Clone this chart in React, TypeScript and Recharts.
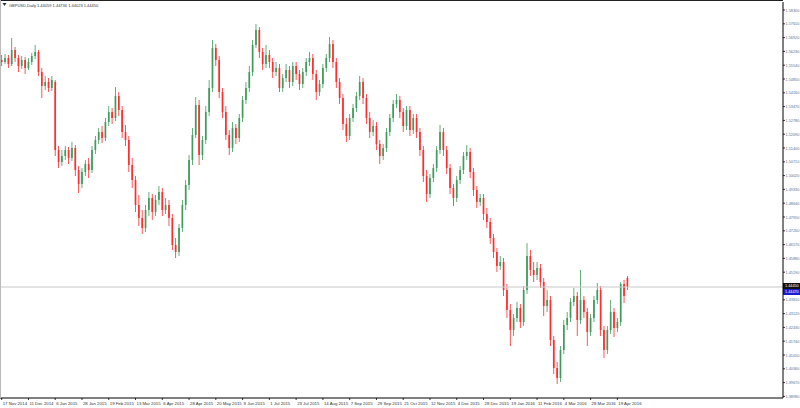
import { ComposedChart, Bar, XAxis, YAxis, ReferenceLine } from 'recharts';

const dateLabels = [
  '17 Nov 2014', '11 Dec 2014', '6 Jan 2015', '28 Jan 2015', '19 Feb 2015', '13 Mar 2015',
  '6 Apr 2015', '28 Apr 2015', '20 May 2015', '9 Jun 2015', '1 Jul 2015', '23 Jul 2015',
  '14 Aug 2015', '7 Sep 2015', '29 Sep 2015', '21 Oct 2015', '12 Nov 2015', '4 Dec 2015',
  '28 Dec 2015', '19 Jan 2016', '11 Feb 2016', '4 Mar 2016', '28 Mar 2016', '19 Apr 2016',
];

const opens = [
  1.5580, 1.5570, 1.5590, 1.5560, 1.5630, 1.5590, 1.5550, 1.5580, 1.5540, 1.5570,
  1.5600, 1.5620, 1.5520, 1.5450, 1.5470, 1.5440, 1.5470, 1.5130, 1.5070, 1.5100,
  1.5130, 1.5090, 1.5140, 1.5030, 1.4960, 1.5020, 1.5060, 1.5030, 1.5130, 1.5180,
  1.5220, 1.5190, 1.5270, 1.5320, 1.5290, 1.5400, 1.5330, 1.5220, 1.5180, 1.5055,
  1.4980, 1.4855, 1.4790, 1.4740, 1.4830, 1.4890, 1.4820, 1.4880, 1.4920, 1.4830,
  1.4855, 1.4790, 1.4655, 1.4620, 1.4740, 1.4855, 1.4955, 1.5080, 1.5205, 1.5355,
  1.5105, 1.5180, 1.5320, 1.5440, 1.5640, 1.5580, 1.5420, 1.5320, 1.5205, 1.5140,
  1.5240, 1.5190, 1.5290, 1.5380, 1.5440, 1.5520, 1.5655, 1.5730, 1.5620, 1.5560,
  1.5605, 1.5570, 1.5520, 1.5540, 1.5440, 1.5490, 1.5530, 1.5470, 1.5550, 1.5510,
  1.5460, 1.5520, 1.5570, 1.5590, 1.5510, 1.5420, 1.5460, 1.5540, 1.5590, 1.5660,
  1.5570, 1.5470, 1.5390, 1.5260, 1.5200, 1.5290, 1.5340, 1.5400, 1.5470, 1.5390,
  1.5290, 1.5220, 1.5250, 1.5160, 1.5100, 1.5140, 1.5220, 1.5290, 1.5360, 1.5380,
  1.5320, 1.5250, 1.5330, 1.5230, 1.5290, 1.5220, 1.5130, 1.5000, 1.4910, 1.4990,
  1.5040, 1.5130, 1.5220, 1.5130, 1.5040, 1.4940, 1.4890, 1.4980, 1.5030, 1.5100,
  1.5120, 1.5020, 1.4930, 1.4870, 1.4890, 1.4810, 1.4770, 1.4690, 1.4620, 1.4550,
  1.4570, 1.4430, 1.4330, 1.4230, 1.4290, 1.4340, 1.4270, 1.4430, 1.4600, 1.4530,
  1.4505, 1.4540, 1.4470, 1.4350, 1.4380, 1.4180, 1.4040, 1.3990, 1.4130, 1.4255,
  1.4290, 1.4370, 1.4400, 1.4280, 1.4380, 1.4320, 1.4220, 1.4290, 1.4380, 1.4430,
  1.4230, 1.4130, 1.4230, 1.4320, 1.4240, 1.4270, 1.4460, 1.4490,
];

const highs = [
  1.5605, 1.5610, 1.5605, 1.5690, 1.5645, 1.5605, 1.5600, 1.5595, 1.5590, 1.5615,
  1.5655, 1.5630, 1.5540, 1.5500, 1.5490, 1.5500, 1.5480, 1.5150, 1.5130, 1.5150,
  1.5145, 1.5170, 1.5155, 1.5050, 1.5040, 1.5080, 1.5090, 1.5150, 1.5200, 1.5240,
  1.5250, 1.5290, 1.5350, 1.5340, 1.5445, 1.5420, 1.5350, 1.5255, 1.5200, 1.5090,
  1.5000, 1.4905, 1.4830, 1.4855, 1.4920, 1.4910, 1.4905, 1.4950, 1.4940, 1.4890,
  1.4880, 1.4810, 1.4690, 1.4760, 1.4880, 1.4980, 1.5105, 1.5240, 1.5395, 1.5380,
  1.5200, 1.5350, 1.5480, 1.5680, 1.5660, 1.5600, 1.5440, 1.5350, 1.5230, 1.5270,
  1.5260, 1.5310, 1.5400, 1.5470, 1.5550, 1.5680, 1.5760, 1.5745, 1.5640, 1.5655,
  1.5630, 1.5590, 1.5570, 1.5560, 1.5510, 1.5560, 1.5550, 1.5570, 1.5570, 1.5530,
  1.5540, 1.5590, 1.5620, 1.5610, 1.5530, 1.5480, 1.5560, 1.5610, 1.5695, 1.5680,
  1.5590, 1.5490, 1.5410, 1.5290, 1.5310, 1.5360, 1.5420, 1.5500, 1.5490, 1.5410,
  1.5320, 1.5280, 1.5270, 1.5180, 1.5160, 1.5240, 1.5310, 1.5380, 1.5410, 1.5400,
  1.5340, 1.5350, 1.5350, 1.5310, 1.5310, 1.5240, 1.5150, 1.5030, 1.5010, 1.5060,
  1.5150, 1.5255, 1.5240, 1.5150, 1.5060, 1.4960, 1.5000, 1.5050, 1.5120, 1.5155,
  1.5140, 1.5040, 1.4950, 1.4910, 1.4910, 1.4840, 1.4790, 1.4710, 1.4640, 1.4600,
  1.4590, 1.4460, 1.4360, 1.4310, 1.4370, 1.4360, 1.4450, 1.4665, 1.4630, 1.4570,
  1.4570, 1.4560, 1.4490, 1.4430, 1.4400, 1.4200, 1.4070, 1.4150, 1.4280, 1.4320,
  1.4390, 1.4440, 1.4420, 1.4530, 1.4400, 1.4340, 1.4310, 1.4400, 1.4465, 1.4450,
  1.4250, 1.4250, 1.4380, 1.4340, 1.4290, 1.4470, 1.4480, 1.4500,
];

const lows = [
  1.5550, 1.5560, 1.5540, 1.5550, 1.5570, 1.5520, 1.5535, 1.5510, 1.5530, 1.5555,
  1.5585, 1.5500, 1.5390, 1.5430, 1.5420, 1.5425, 1.5100, 1.5040, 1.5050, 1.5080,
  1.5060, 1.5075, 1.5000, 1.4915, 1.4940, 1.5000, 1.4990, 1.5015, 1.5110, 1.5160,
  1.5165, 1.5175, 1.5250, 1.5260, 1.5275, 1.5300, 1.5190, 1.5150, 1.5020, 1.4940,
  1.4820, 1.4750, 1.4710, 1.4720, 1.4800, 1.4780, 1.4800, 1.4855, 1.4800, 1.4810,
  1.4750, 1.4630, 1.4590, 1.4600, 1.4720, 1.4830, 1.4930, 1.5055, 1.5190, 1.5055,
  1.5080, 1.5160, 1.5300, 1.5420, 1.5550, 1.5390, 1.5290, 1.5180, 1.5105, 1.5120,
  1.5160, 1.5170, 1.5270, 1.5360, 1.5420, 1.5500, 1.5640, 1.5590, 1.5530, 1.5540,
  1.5540, 1.5490, 1.5500, 1.5420, 1.5420, 1.5470, 1.5440, 1.5450, 1.5480, 1.5430,
  1.5440, 1.5500, 1.5550, 1.5480, 1.5380, 1.5400, 1.5440, 1.5520, 1.5570, 1.5540,
  1.5440, 1.5360, 1.5230, 1.5170, 1.5180, 1.5270, 1.5320, 1.5380, 1.5360, 1.5260,
  1.5190, 1.5200, 1.5130, 1.5060, 1.5080, 1.5120, 1.5200, 1.5270, 1.5340, 1.5290,
  1.5220, 1.5230, 1.5200, 1.5210, 1.5190, 1.5100, 1.4970, 1.4870, 1.4890, 1.4970,
  1.5020, 1.5110, 1.5100, 1.5010, 1.4910, 1.4850, 1.4870, 1.4960, 1.5010, 1.5080,
  1.4990, 1.4900, 1.4840, 1.4850, 1.4780, 1.4740, 1.4660, 1.4590, 1.4520, 1.4530,
  1.4400, 1.4290, 1.4150, 1.4200, 1.4270, 1.4240, 1.4250, 1.4410, 1.4500, 1.4470,
  1.4480, 1.4440, 1.4300, 1.4320, 1.4150, 1.4010, 1.3960, 1.3970, 1.4110, 1.4230,
  1.4270, 1.4350, 1.4200, 1.4260, 1.4290, 1.4150, 1.4200, 1.4270, 1.4360, 1.4200,
  1.4090, 1.4110, 1.4210, 1.4195, 1.4220, 1.4250, 1.4365, 1.4430,
];

const closes = [
  1.5570, 1.5590, 1.5560, 1.5630, 1.5590, 1.5550, 1.5580, 1.5540, 1.5570, 1.5600,
  1.5620, 1.5520, 1.5450, 1.5470, 1.5440, 1.5480, 1.5130, 1.5070, 1.5100, 1.5130,
  1.5090, 1.5140, 1.5030, 1.4960, 1.5020, 1.5060, 1.5030, 1.5130, 1.5180, 1.5220,
  1.5190, 1.5270, 1.5320, 1.5290, 1.5400, 1.5330, 1.5220, 1.5180, 1.5055, 1.4980,
  1.4855, 1.4790, 1.4740, 1.4830, 1.4890, 1.4820, 1.4880, 1.4920, 1.4830, 1.4855,
  1.4790, 1.4655, 1.4620, 1.4740, 1.4855, 1.4955, 1.5080, 1.5205, 1.5355, 1.5105,
  1.5180, 1.5320, 1.5440, 1.5640, 1.5580, 1.5420, 1.5320, 1.5205, 1.5140, 1.5240,
  1.5190, 1.5290, 1.5380, 1.5440, 1.5520, 1.5655, 1.5730, 1.5620, 1.5560, 1.5605,
  1.5570, 1.5520, 1.5540, 1.5440, 1.5490, 1.5530, 1.5470, 1.5550, 1.5510, 1.5460,
  1.5520, 1.5570, 1.5590, 1.5510, 1.5420, 1.5460, 1.5540, 1.5590, 1.5660, 1.5570,
  1.5470, 1.5390, 1.5260, 1.5200, 1.5290, 1.5340, 1.5400, 1.5470, 1.5390, 1.5290,
  1.5220, 1.5250, 1.5160, 1.5100, 1.5140, 1.5220, 1.5290, 1.5360, 1.5380, 1.5320,
  1.5250, 1.5330, 1.5230, 1.5290, 1.5220, 1.5130, 1.5000, 1.4910, 1.4990, 1.5040,
  1.5130, 1.5220, 1.5130, 1.5040, 1.4940, 1.4890, 1.4980, 1.5030, 1.5100, 1.5120,
  1.5020, 1.4930, 1.4870, 1.4890, 1.4810, 1.4770, 1.4690, 1.4620, 1.4550, 1.4570,
  1.4430, 1.4330, 1.4230, 1.4290, 1.4340, 1.4270, 1.4430, 1.4600, 1.4530, 1.4505,
  1.4540, 1.4470, 1.4350, 1.4380, 1.4180, 1.4040, 1.3990, 1.4130, 1.4255, 1.4290,
  1.4370, 1.4400, 1.4280, 1.4380, 1.4320, 1.4220, 1.4290, 1.4380, 1.4430, 1.4230,
  1.4130, 1.4230, 1.4320, 1.4240, 1.4270, 1.4460, 1.4400, 1.4445,
];

// right axis price labels (the one under the bid label is hidden, like the terminal does)
const priceTicks = [
  1.5830, 1.5761, 1.5692, 1.5623, 1.5554, 1.5485, 1.5416, 1.5347, 1.5278, 1.5209,
  1.5140, 1.5071, 1.5002, 1.4933, 1.4864, 1.4795, 1.4726, 1.4657, 1.4588, 1.4519,
  1.4381, 1.4312, 1.4243, 1.4174, 1.4105, 1.4036, 1.3967, 1.3898,
];

const bidPrice = 1.4445;
const askPrice = 1.4447;
const titleText = 'GBPUSD,Daily  1.44059 1.44736 1.44023 1.44450';

const BULL = '#3f9c5c';
const BEAR = '#ff2d2d';
const FONT = 'Liberation Sans, Arial, sans-serif';
const LABEL_EVERY = 8;
const SHIFT_BARS = 46; // empty space on the right of the last bar

const rows = [
  ...opens.map((o, i) => ({
    i,
    o,
    h: highs[i],
    l: lows[i],
    c: closes[i],
    range: [lows[i], highs[i]],
  })),
  ...Array.from({ length: SHIFT_BARS }, (_, k) => ({ i: opens.length + k, range: null })),
];

function Candle(props: any) {
  const { x, y, width, height, payload } = props;
  if (!payload || payload.o == null) return null;
  const { o, h, l, c } = payload;
  const top = Math.min(y, y + height);
  const full = Math.abs(height);
  const ppu = full / (h - l || 1);
  const bodyTop = top + (h - Math.max(o, c)) * ppu;
  const bodyH = Math.max(Math.abs(o - c) * ppu, 1);
  const cx = x + width / 2;
  const color = c >= o ? BULL : BEAR;
  return (
    <g>
      <rect x={cx - 0.4} y={top} width={0.8} height={full} fill={color} />
      <rect x={cx - 0.85} y={bodyTop} width={1.7} height={bodyH} fill={color} />
    </g>
  );
}

function DateTick(props: any) {
  const { x, y, payload } = props;
  const idx = payload.value;
  if (idx % LABEL_EVERY !== 0) return null;
  const label = dateLabels[idx / LABEL_EVERY];
  if (!label) return null;
  return (
    <g>
      <line x1={x} y1={y} x2={x} y2={y + 2} stroke="#000" strokeWidth={0.8} />
      <text x={x + 1} y={y + 7} fontSize={4.3} fill="#333" textAnchor="start" fontFamily={FONT}>
        {label}
      </text>
    </g>
  );
}

function PriceTick(props: any) {
  const { x, y, payload } = props;
  return (
    <g>
      <line x1={x} y1={y} x2={x + 2} y2={y} stroke="#000" strokeWidth={0.8} />
      <text x={x + 2.6} y={y + 1.5} fontSize={3.8} fill="#5f6f88" textAnchor="start" fontFamily={FONT}>
        {Number(payload.value).toFixed(5)}
      </text>
    </g>
  );
}

function PriceBoxes(props: any) {
  const { viewBox } = props;
  if (!viewBox) return null;
  const px = viewBox.x + viewBox.width;
  const py = viewBox.y;
  return (
    <g fontFamily={FONT} fontSize={3.8}>
      <rect x={px} y={py - 4} width={17} height={6} fill="#111" />
      <text x={px + 2} y={py + 0.4} fill="#fff">
        {bidPrice.toFixed(5)}
      </text>
      <rect x={px} y={py + 2} width={17} height={6} fill="#1a1ad0" />
      <text x={px + 2} y={py + 6.4} fill="#fff">
        {askPrice.toFixed(5)}
      </text>
    </g>
  );
}

export default function App() {
  return (
    <div style={{ position: 'absolute', left: 0, top: 0, width: 800, height: 408, background: '#fff' }}>
      <ComposedChart
        width={800}
        height={408}
        data={rows}
        margin={{ top: 2, right: 0, bottom: 0, left: 0 }}
        barCategoryGap="20%"
      >
        <XAxis
          dataKey="i"
          interval={LABEL_EVERY - 1}
          height={10}
          stroke="#000"
          tickLine={false}
          tickSize={0}
          tickMargin={0}
          tick={<DateTick />}
        />
        <YAxis
          orientation="right"
          width={17}
          domain={[1.389, 1.587]}
          allowDataOverflow
          ticks={priceTicks}
          interval={0}
          stroke="#000"
          tickLine={false}
          tickSize={0}
          tickMargin={0}
          tick={<PriceTick />}
        />
        <ReferenceLine y={bidPrice} stroke="#c8c8c8" strokeWidth={1} label={<PriceBoxes />} />
        <Bar dataKey="range" shape={<Candle />} isAnimationActive={false} />
      </ComposedChart>
      <svg width={800} height={408} style={{ position: 'absolute', left: 0, top: 0, pointerEvents: 'none' }}>
        <line x1={0} y1={0.5} x2={783} y2={0.5} stroke="#222" strokeWidth={1} />
        <line x1={0.5} y1={0} x2={0.5} y2={398} stroke="#bbb" strokeWidth={1} />
        <path d="M2.5 3 L6.5 3 L4.5 6 Z" fill="#333" />
        <text x={9} y={6.8} fontSize={4} fill="#333" fontFamily={FONT}>
          {titleText}
        </text>
      </svg>
    </div>
  );
}
